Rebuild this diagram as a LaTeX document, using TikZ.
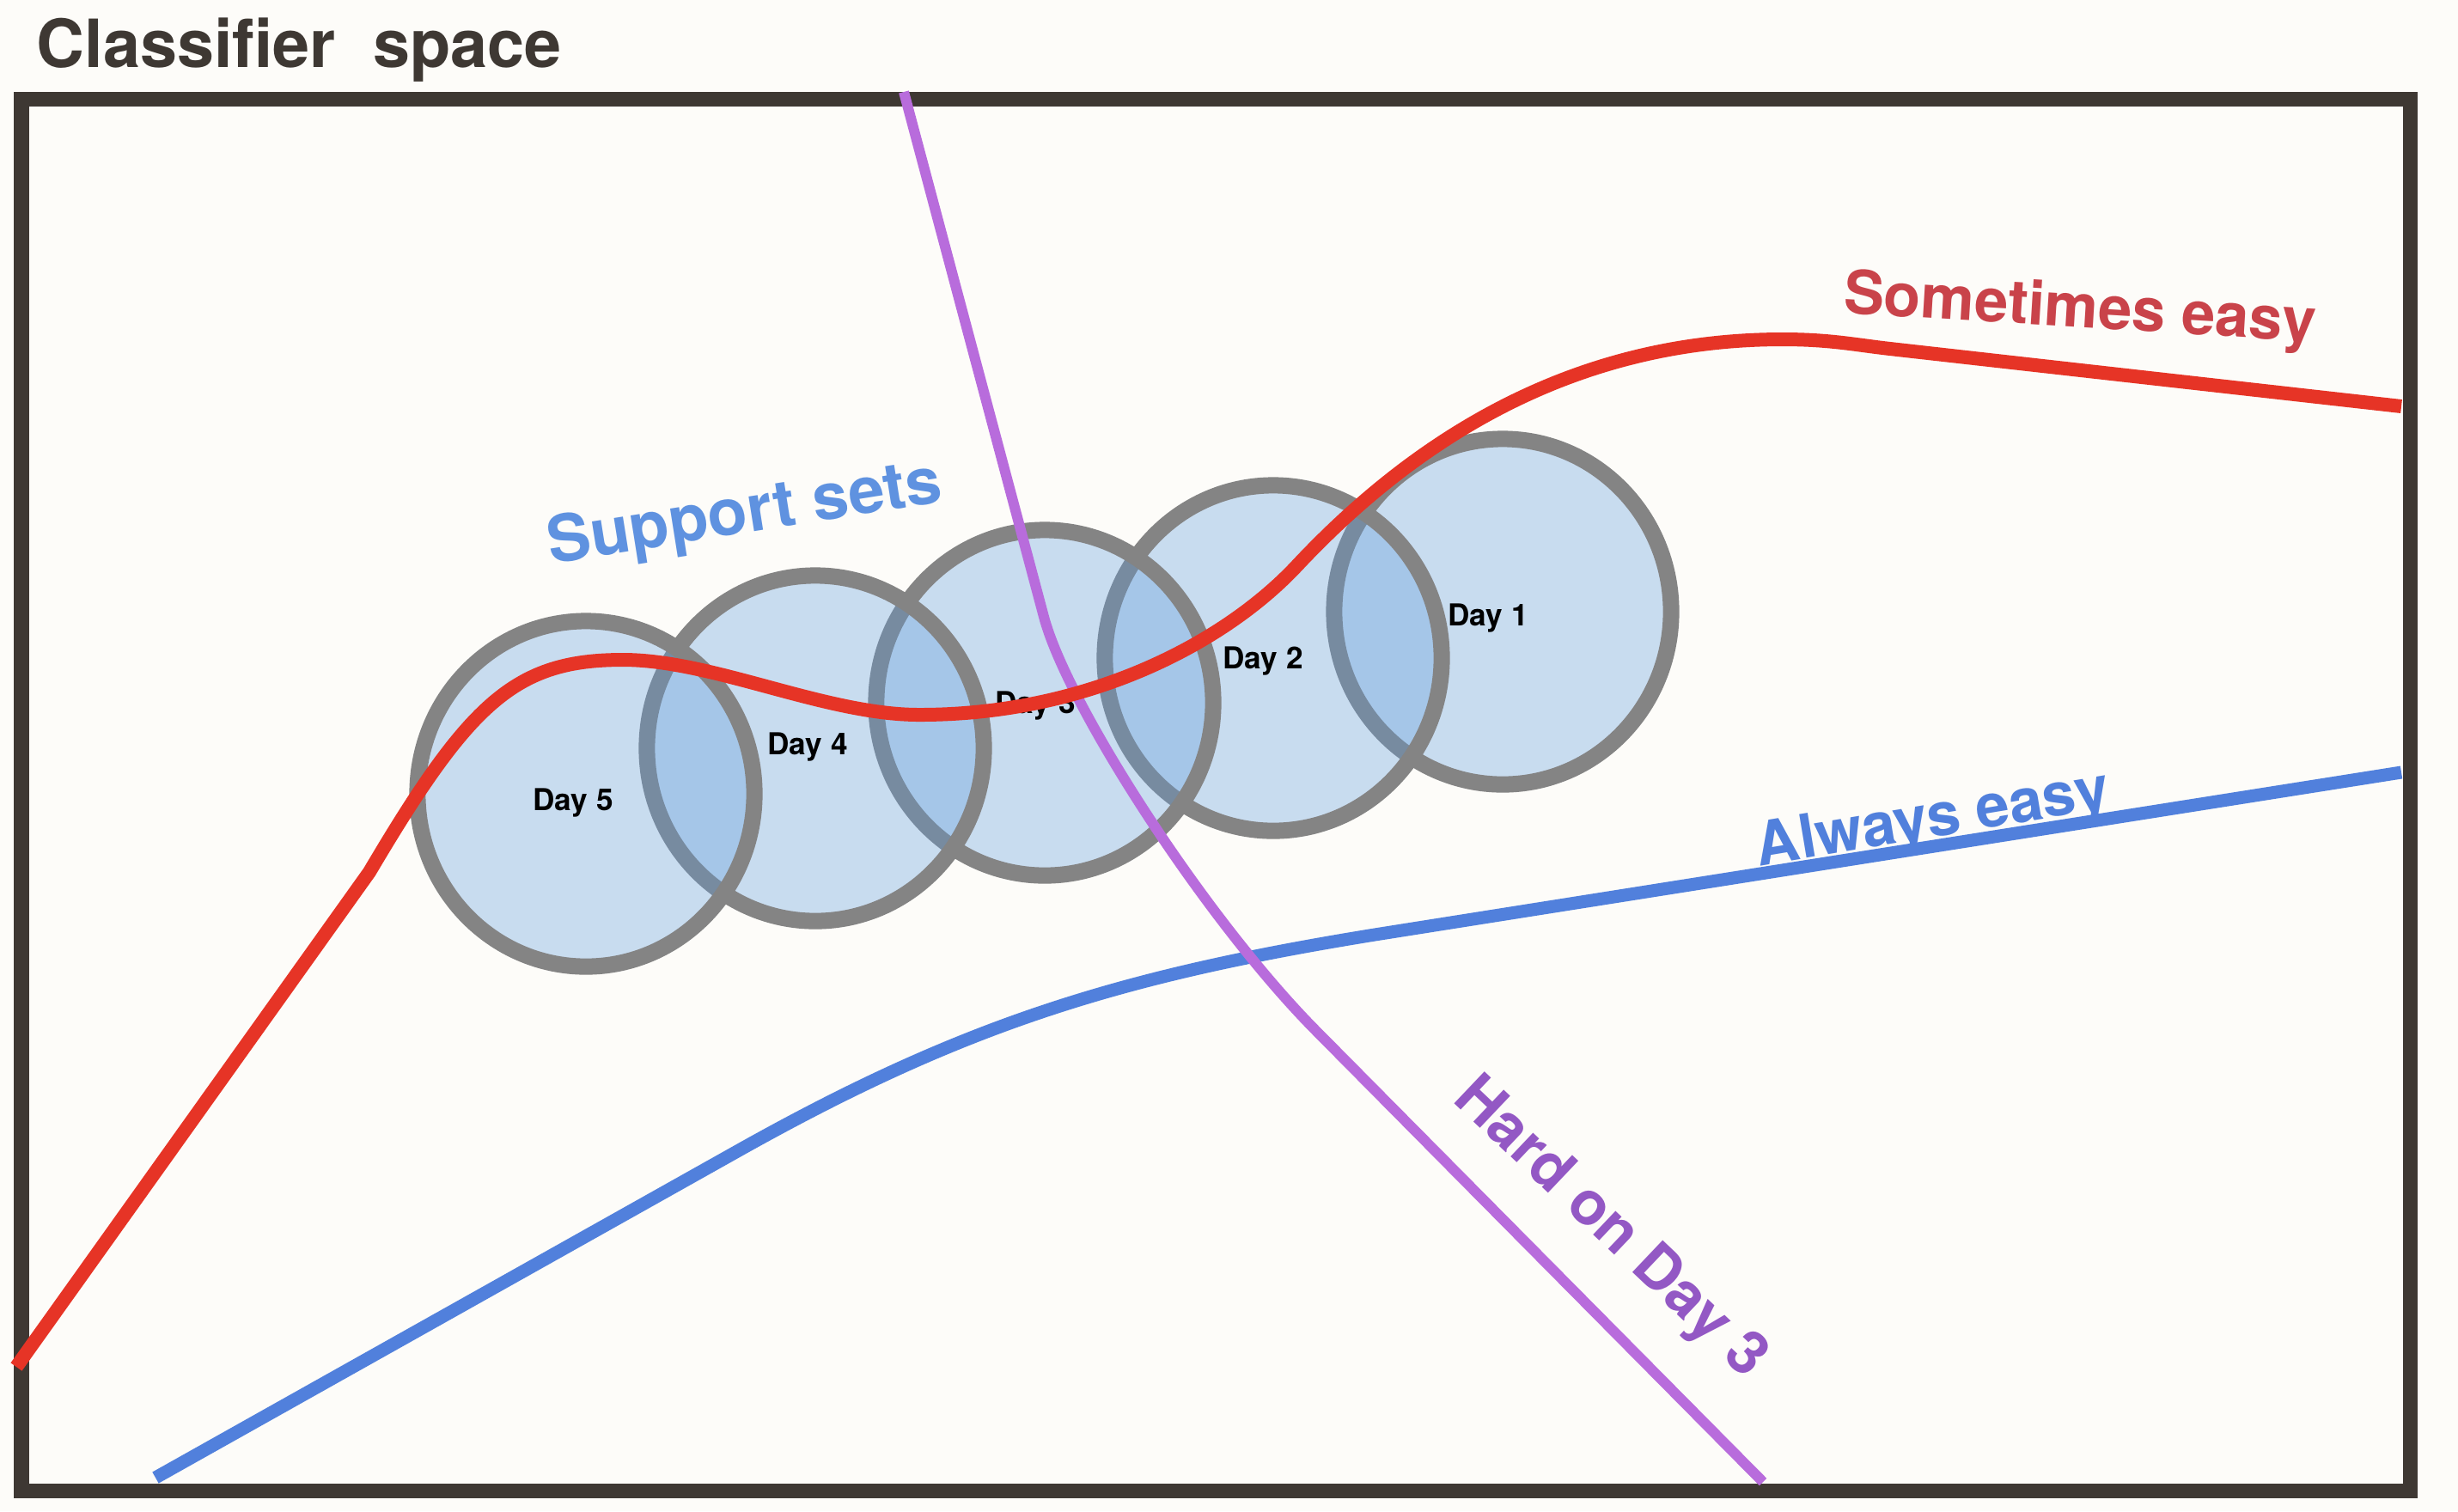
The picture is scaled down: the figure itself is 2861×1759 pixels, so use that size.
\documentclass[tikz,border=0pt]{standalone}
\usepackage{fontspec}
\setmainfont{TeX Gyre Heros}
\usepackage{xcolor}
\definecolor{paper}{RGB}{253,252,249}
\definecolor{frame}{RGB}{62,56,51}
\definecolor{easyred}{RGB}{230,52,38}
\definecolor{easyredtext}{RGB}{201,67,74}
\definecolor{easyblue}{RGB}{81,128,220}
\definecolor{supportblue}{RGB}{95,146,224}
\definecolor{hardpurple}{RGB}{184,108,220}
\definecolor{hardpurpletext}{RGB}{147,88,196}
\definecolor{ringgray}{RGB}{132,132,132}
\definecolor{setfill}{RGB}{95,155,220}
\tikzset{
  every node/.style={
    inner sep=0pt
  },
  supportset/.style={fill=setfill, fill opacity=0.33, draw=ringgray, line width=0.19cm},
  daylabel/.style={anchor=base, text=black, font=\bfseries\fontsize{10}{12}\selectfont},
  curvelabel/.style={anchor=base, font=\bfseries\fontsize{20}{24}\selectfont},
  curve/.style={line join=round}
}

\begin{document}
\begin{tikzpicture}[x=0.01cm, y=-0.01cm]
    %\draw[gray, very thin] (0,0) grid[step=100] (2861,1759);
    \path[use as bounding box, fill=paper] (0,0) rectangle (2861,1759);
    \node[anchor=base west, text=frame, font=\bfseries\fontsize{22}{26}\selectfont] (title) at (42,78) {Classifier~~space};
    \draw[line width=0.17cm, color=frame] (25,115) rectangle (2805,1735);
    \coordinate (D1) at (1749,712);
    \coordinate (D2) at (1482,766);
    \coordinate (D3) at (1216,818);
    \coordinate (D4) at (949,871);
    \coordinate (D5) at (682,924);
    \path[supportset] (D1) ellipse [x radius=1.96cm, y radius=2.01cm];
    \path[supportset] (D2) ellipse [x radius=1.96cm, y radius=2.01cm];
    \path[supportset] (D3) ellipse [x radius=1.96cm, y radius=2.01cm];
    \path[supportset] (D4) ellipse [x radius=1.96cm, y radius=2.01cm];
    \path[supportset] (D5) ellipse [x radius=1.96cm, y radius=2.01cm];
    \node[daylabel] (day1) at (1732,728) {Day 1};
    \node[daylabel] (day2) at (1470,778) {Day 2};
    \node[daylabel] (day3) at (1205,830) {Day 3};
    \node[daylabel] (day4) at (940,878) {Day 4};
    \node[daylabel] (day5) at (667,943) {Day 5};
    \node[curvelabel, text=supportblue, rotate=9, font=\bfseries\fontsize{21.5}{25}\selectfont] (support) at (870,620) {Support sets};
    % always easy
    \coordinate (A0) at (181,1720);
    \coordinate (A1) at (860,1339);
    \coordinate (A2) at (1600,1088);
    \coordinate (A3) at (2795,899);
    \draw[curve, line width=0.15cm, color=easyblue] (A0) -- (A1)
      .. controls (1122,1192) and (1304,1136) .. (A2) -- (A3);
    \node[curvelabel, text=easyblue, rotate=9.5] (always) at (2253,974) {Always easy};
    % hard on day 3
    \coordinate (H0) at (1052,107);
    \coordinate (H1) at (1215,718);
    \coordinate (H2) at (1532,1200);
    \coordinate (H3) at (2052,1725);
    \draw[curve, line width=0.12cm, color=hardpurple] (H0) -- (H1)
      .. controls (1243,823) and (1405,1072) .. (H2) -- (H3);
    \node[curvelabel, text=hardpurpletext, rotate=-43.5] (hard) at (1861,1444) {Hard on Day 3};
    % sometimes easy
    \coordinate (S0) at (19,1591);
    \coordinate (S1) at (430,1015);
    \coordinate (S2) at (725,768);
    \coordinate (S3) at (1070,832);
    \coordinate (S4) at (1510,658);
    \coordinate (S5) at (2075,395);
    \coordinate (S6) at (2200,406);
    \coordinate (S7) at (2795,473);
    \draw[curve, line width=0.16cm, color=easyred] (S0) -- (S1)
      .. controls (547,817) and (600,768) .. (S2)
      .. controls (830,768) and (960,832) .. (S3)
      .. controls (1270,832) and (1428,746) .. (S4)
      .. controls (1647,512) and (1830,395) .. (S5)
      .. controls (2130,395) and (2160,401.5) .. (S6) -- (S7);
    \node[curvelabel, text=easyredtext, rotate=-3.5] (sometimes) at (2420,381) {Sometimes easy};
\end{tikzpicture}
\end{document}
